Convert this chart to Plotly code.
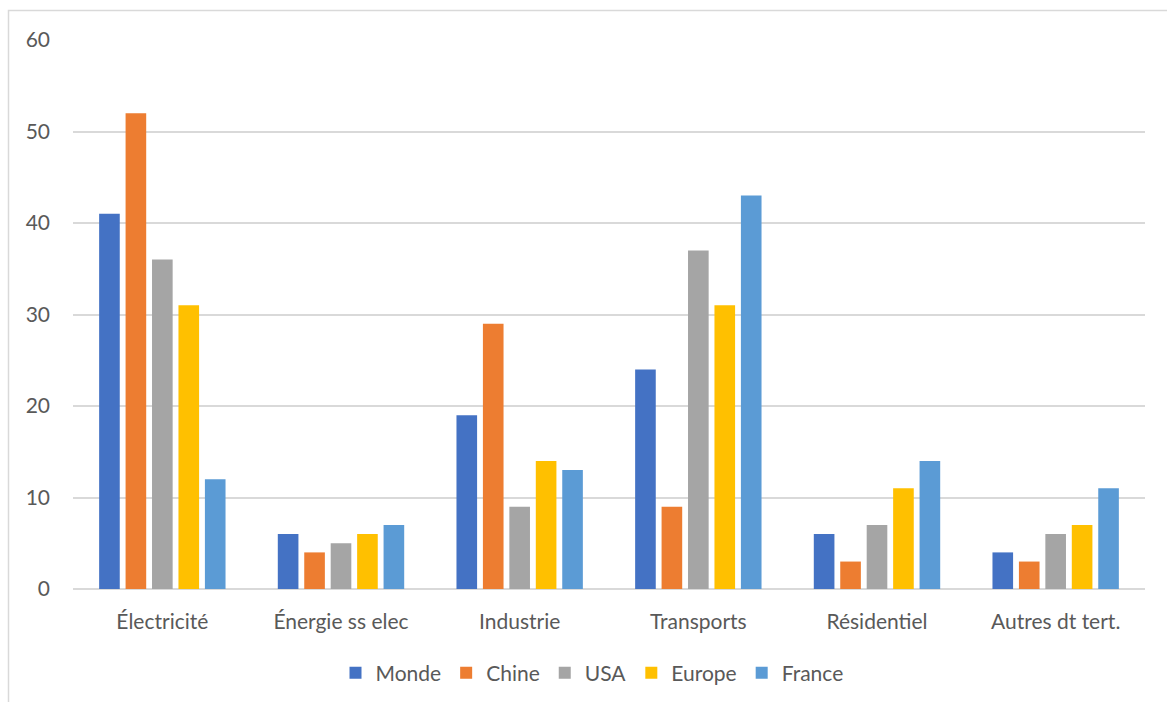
import plotly.graph_objects as go

categories = ["Électricité", "Énergie ss elec", "Industrie", "Transports", "Résidentiel", "Autres dt tert."]
monde = [41, 6, 19, 24, 6, 4]
chine = [52, 4, 29, 9, 3, 3]
usa = [36, 5, 9, 37, 7, 6]
europe = [31, 6, 14, 31, 11, 7]
france = [12, 7, 13, 43, 14, 11]

series = [
    ("Monde", monde, "#4472C4"),
    ("Chine", chine, "#ED7D31"),
    ("USA", usa, "#A5A5A5"),
    ("Europe", europe, "#FFC000"),
    ("France", france, "#5B9BD5"),
]

FONT = "Lato, 'Open Sans', sans-serif"
fig = go.Figure()
for name, vals, col in series:
    fig.add_trace(go.Bar(x=categories, y=vals, name=name, marker_color=col, marker_line_width=0))

W, H = 1167, 702
L, R, T, B = 73, 22, 40, 113
pw, ph = W - L - R, H - T - B

fig.update_layout(
    width=W, height=H,
    margin=dict(l=L, r=R, t=T, b=B, autoexpand=False),
    paper_bgcolor="white", plot_bgcolor="white",
    barmode="group", bargap=0.26, bargroupgap=0.22,
    font=dict(family=FONT, size=21, color="#595959"),
    showlegend=True,
    legend=dict(orientation="h", x=0.5 - 17 / pw, xanchor="center", y=(589 - 673) / ph, yanchor="middle",
                font=dict(size=21, color="#595959"), itemwidth=30, traceorder="normal"),
    xaxis=dict(showgrid=False, showline=False, ticks="", ticklabelstandoff=18, automargin=False,
               tickfont=dict(size=21, color="#595959")),
    yaxis=dict(range=[0, 60], dtick=10, showgrid=True, gridcolor="#D9D9D9", gridwidth=1.5,
               zeroline=True, zerolinecolor="#D9D9D9", zerolinewidth=1.5, showline=False,
               automargin=False,
               ticks="", ticklabelstandoff=22, tickfont=dict(size=21, color="#595959")),
    shapes=[dict(type="rect", xref="paper", yref="paper",
                 x0=(8.5 - L) / pw, x1=(W + 5 - L) / pw,
                 y0=(589 - (H + 5)) / ph, y1=(589 - 10.5) / ph,
                 line=dict(color="#D9D9D9", width=1.5), fillcolor="rgba(0,0,0,0)", layer="below")],
)

fig.write_html("out.html")
